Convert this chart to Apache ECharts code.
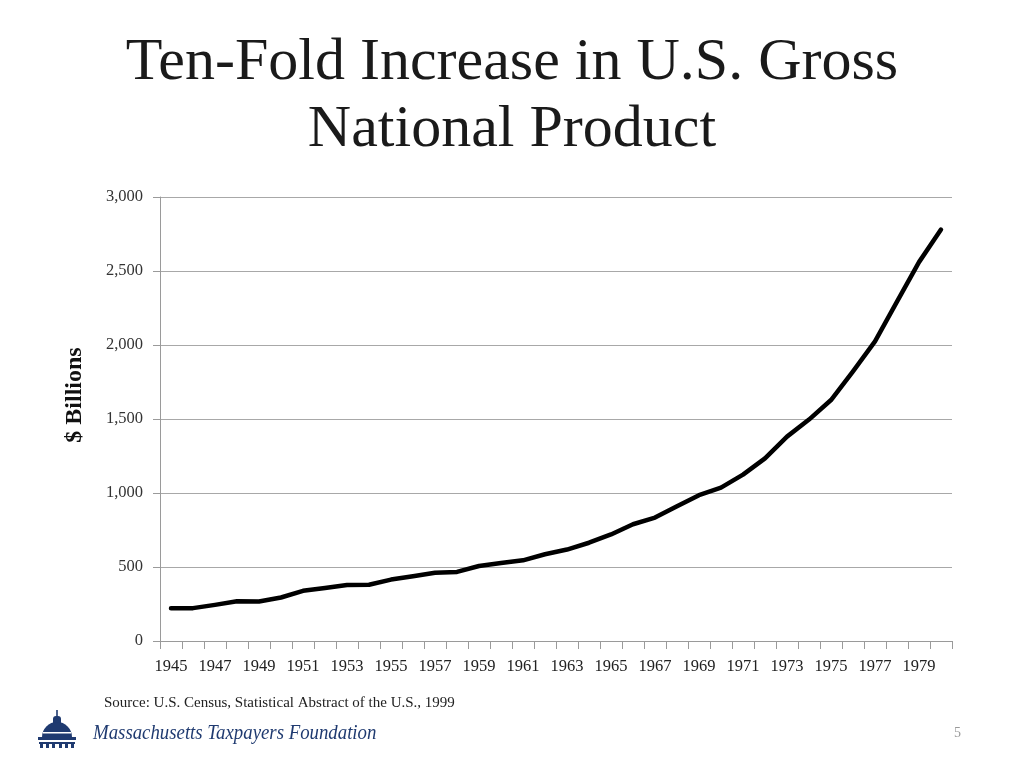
<!DOCTYPE html>
<html><head><meta charset="utf-8">
<script src="https://cdn.jsdelivr.net/npm/echarts@6/dist/echarts.min.js"></script>
<style>html,body{margin:0;padding:0;background:#fff;}#c{width:1024px;height:768px;}</style>
</head><body><div id="c"></div>
<script>
const years = ['1945','1946','1947','1948','1949','1950','1951','1952','1953','1954','1955','1956','1957','1958','1959','1960','1961','1962','1963','1964','1965','1966','1967','1968','1969','1970','1971','1972','1973','1974','1975','1976','1977','1978','1979','1980'];
const gnp = [222,222,244,269,267,294,339,358,379,380,415,438,461,467,507,527,545,586,618,664,720,789,834,911,985,1036,1124,1234,1381,1496,1628,1822,2025,2293,2560,2780];
const yTicks = [0,500,1000,1500,2000,2500,3000];
const titleLines = ['Ten-Fold Increase in U.S. Gross','National Product'];
const yAxisTitle = '$ Billions';
const sourceText = 'Source: U.S. Census, Statistical Abstract of the U.S., 1999';
const orgName = 'Massachusetts Taxpayers Foundation';
const pageNum = '5';

const chart = echarts.init(document.getElementById('c'));
const navy = '#1f3a70';
chart.setOption({
  animation:false,
  backgroundColor:'#fff',
  title:{
    text:titleLines.join('\n'), left:'center', top:25,
    textStyle:{fontFamily:'Liberation Serif', fontSize:60, fontWeight:'normal', color:'#1a1a1a', lineHeight:67}
  },
  grid:{left:160,right:72,top:197,bottom:127},
  xAxis:{
    type:'category', data:years, boundaryGap:true,
    axisLine:{lineStyle:{color:'#9a9a9a',width:1}},
    axisTick:{show:true,interval:0,length:8,lineStyle:{color:'#9a9a9a'}},
    axisLabel:{interval:1,margin:17,fontFamily:'Liberation Serif',fontSize:16.5,color:'#222'},
    splitLine:{show:false}
  },
  yAxis:{
    type:'value', min:yTicks[0], max:yTicks[yTicks.length-1], interval:500,
    axisLine:{show:true,lineStyle:{color:'#9a9a9a',width:1}},
    axisTick:{show:true,length:7,lineStyle:{color:'#9a9a9a'}},
    axisLabel:{margin:17,fontFamily:'Liberation Serif',fontSize:16.5,color:'#333',
      formatter:v=>v.toLocaleString('en-US')},
    splitLine:{lineStyle:{color:'#a8a8a8',width:1}}
  },
  series:[{
    type:'line', data:gnp, symbol:'none', smooth:false,
    lineStyle:{color:'#000',width:4.5,cap:'round',join:'round'}
  }],
  graphic:[
    {type:'text', x:75, y:395, rotation:Math.PI/2,
      style:{text:yAxisTitle, font:'bold 24px "Liberation Serif"', fill:'#111', align:'center', verticalAlign:'middle'}},
    {type:'text', left:104, top:696, style:{text:sourceText, font:'15px "Liberation Serif"', fill:'#222'}},
    {type:'text', x:93, y:734, scaleX:0.94,
      style:{text:orgName, font:'italic 20px "Liberation Serif"', fill:navy, verticalAlign:'middle'}},
    {type:'text', left:954, top:726, style:{text:pageNum, font:'14px "Liberation Serif"', fill:'#999'}},
    // dome logo
    {type:'group', left:38, top:710, children:[
      {type:'rect', shape:{x:19.2,y:0,width:1.6,height:6}, style:{fill:navy}},
      {type:'rect', shape:{x:16,y:6,width:8,height:9,r:[3,3,0,0]}, style:{fill:navy}},
      {type:'sector', shape:{cx:20,cy:27,r0:0,r:15,startAngle:Math.PI,endAngle:2*Math.PI}, style:{fill:navy}},
      {type:'rect', shape:{x:6,y:22,width:28,height:1.5}, style:{fill:'#fff'}},
      {type:'rect', shape:{x:1,y:27,width:38,height:3}, style:{fill:navy}},
      {type:'rect', shape:{x:2,y:32,width:36,height:2}, style:{fill:navy}},
      {type:'rect', shape:{x:3,y:34,width:3,height:4}, style:{fill:navy}},
      {type:'rect', shape:{x:9,y:34,width:3,height:4}, style:{fill:navy}},
      {type:'rect', shape:{x:15,y:34,width:3,height:4}, style:{fill:navy}},
      {type:'rect', shape:{x:22,y:34,width:3,height:4}, style:{fill:navy}},
      {type:'rect', shape:{x:28,y:34,width:3,height:4}, style:{fill:navy}},
      {type:'rect', shape:{x:34,y:34,width:3,height:4}, style:{fill:navy}}
    ]}
  ]
});
</script></body></html>
